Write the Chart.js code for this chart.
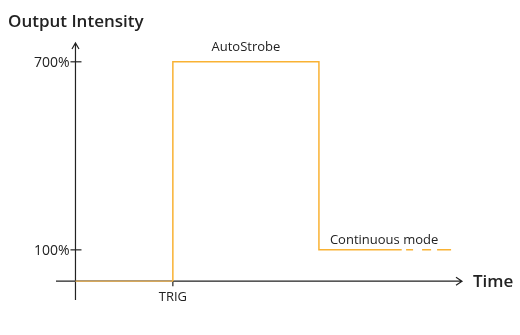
<!DOCTYPE html>
<html>
<head>
<meta charset="utf-8">
<script src="https://cdn.jsdelivr.net/npm/chart.js@4/dist/chart.umd.min.js"></script>
<style>
  html, body { margin: 0; padding: 0; background: #fff; }
  #wrap { width: 520px; height: 335px; }
</style>
</head>
<body>
<div id="wrap"><canvas id="pulseChart"></canvas></div>
<script>
// Output intensity over time: trigger, strobe pulse, then continuous mode
const trigTime = 2;
const strobeEnd = 5;
const signalTimes = [0, 2, 2, 5, 5, 6.7];
const signalLevels = [0, 0, 700, 700, 100, 100];
const tailTimes = [6.79, 7.72];
const tailLevels = [100, 100];
const yTickValues = [100, 700];
const yTickLabels = ['100%', '700%'];
const xTickValues = [trigTime];
const xTickLabels = ['TRIG'];
const pulseLabel = 'AutoStrobe';
const modeLabel = 'Continuous mode';

const ORANGE = '#f9b233';
const INK = '#222';
const FONT = '"Open Sans", "Noto Sans", sans-serif';

const toPoints = (xs, ys) => xs.map((x, i) => ({ x, y: ys[i] }));

// draws the arrowed axes, ticks and labels around the chart area
const axesPlugin = {
  id: 'axes',
  beforeDatasetsDraw(chart) {
    const { ctx, chartArea: a, scales: { x, y } } = chart;
    const x0 = x.getPixelForValue(0);
    const y0 = y.getPixelForValue(0);
    ctx.save();
    ctx.strokeStyle = INK;
    ctx.lineWidth = 1.2;
    ctx.beginPath();
    // vertical axis with open arrowhead
    ctx.moveTo(x0, a.bottom);
    ctx.lineTo(x0, a.top);
    ctx.moveTo(x0 - 3.5, a.top + 6);
    ctx.lineTo(x0, a.top);
    ctx.lineTo(x0 + 3.5, a.top + 6);
    // horizontal axis with open arrowhead
    ctx.moveTo(a.left, y0);
    ctx.lineTo(a.right - 3, y0);
    ctx.moveTo(a.right - 9, y0 - 4);
    ctx.lineTo(a.right - 3, y0);
    ctx.lineTo(a.right - 9, y0 + 4);
    ctx.stroke();

    ctx.fillStyle = INK;
    ctx.font = '14px ' + FONT;
    ctx.textBaseline = 'middle';
    ctx.textAlign = 'right';
    yTickValues.forEach((v, i) => {
      const py = y.getPixelForValue(v);
      ctx.beginPath();
      ctx.moveTo(x0 - 5, py);
      ctx.lineTo(x0 + 6, py);
      ctx.stroke();
      ctx.fillText(yTickLabels[i], x0 - 6, py + 1);
    });
    ctx.font = '13px ' + FONT;
    ctx.textAlign = 'center';
    xTickValues.forEach((v, i) => {
      const px = x.getPixelForValue(v);
      ctx.beginPath();
      ctx.moveTo(px, y0);
      ctx.lineTo(px, y0 + 5);
      ctx.stroke();
      ctx.fillText(xTickLabels[i], px, y0 + 16);
    });

    ctx.font = '600 17px ' + FONT;
    ctx.textAlign = 'left';
    ctx.fillText('Output Intensity', 8, 22);
    ctx.fillText('Time', a.right + 8, y0 + 1);
    ctx.restore();
  },
  afterDatasetsDraw(chart) {
    const { ctx, scales: { x, y } } = chart;
    ctx.save();
    ctx.fillStyle = INK;
    ctx.font = '13px ' + FONT;
    ctx.textBaseline = 'middle';
    ctx.textAlign = 'center';
    ctx.fillText(pulseLabel, x.getPixelForValue((trigTime + strobeEnd) / 2), y.getPixelForValue(700) - 15);
    ctx.textAlign = 'left';
    ctx.fillText(modeLabel, x.getPixelForValue(strobeEnd) + 11, y.getPixelForValue(100) - 10);
    ctx.restore();
  }
};

new Chart(document.getElementById('pulseChart'), {
  type: 'line',
  data: {
    datasets: [
      {
        data: toPoints(signalTimes, signalLevels),
        borderColor: ORANGE,
        borderWidth: 1.5,
        pointRadius: 0,
        tension: 0,
        segment: {
          // the baseline part sits on top of the time axis
          borderColor: c => (c.p0.parsed.y === 0 && c.p1.parsed.y === 0 ? '#d6a85c' : ORANGE)
        }
      },
      {
        data: toPoints(tailTimes, tailLevels),
        borderColor: ORANGE,
        borderWidth: 1.5,
        borderDash: [7, 9, 9, 6, 14],
        pointRadius: 0
      }
    ]
  },
  options: {
    responsive: true,
    maintainAspectRatio: false,
    animation: false,
    layout: { padding: { left: 56, right: 55, top: 43, bottom: 35 } },
    scales: {
      x: { type: 'linear', min: -0.4, max: 8, display: false },
      y: { type: 'linear', min: -60, max: 760, display: false }
    },
    plugins: {
      legend: { display: false },
      tooltip: { enabled: false }
    }
  },
  plugins: [axesPlugin]
});
</script>
</body>
</html>
